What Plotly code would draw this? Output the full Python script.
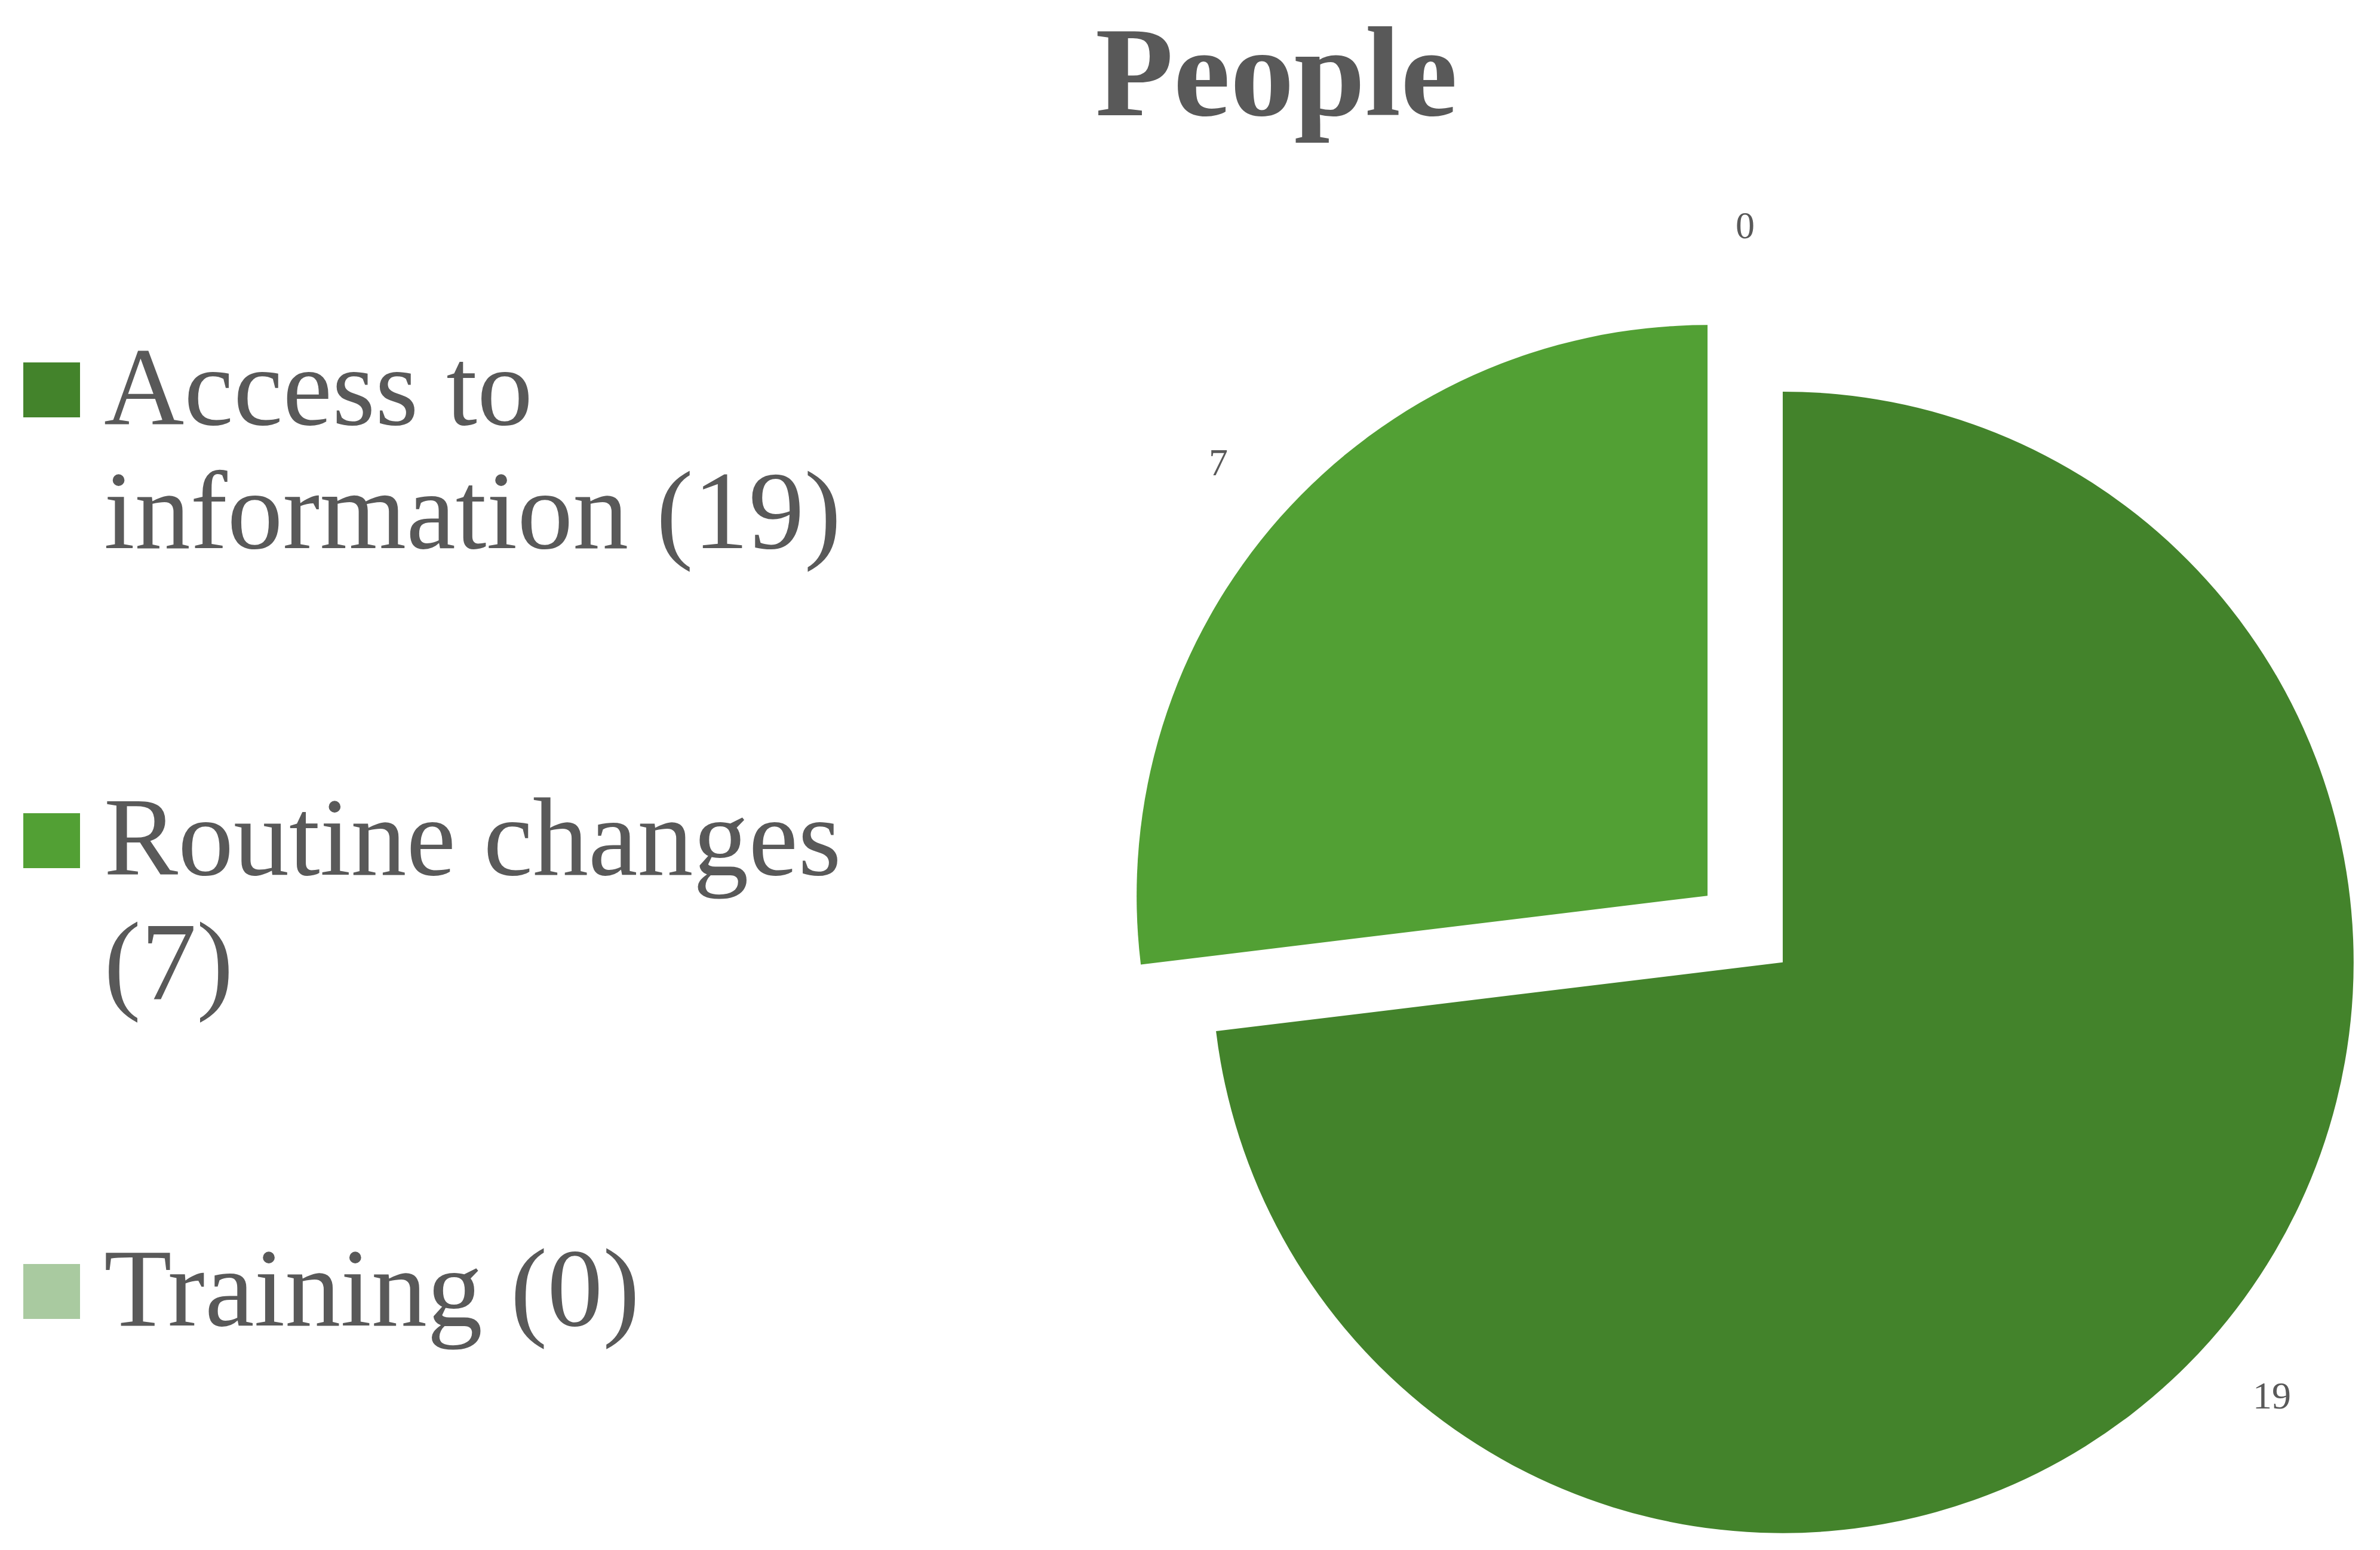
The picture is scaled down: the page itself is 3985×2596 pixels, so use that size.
import math
import plotly.graph_objects as go

# ---- data ----
categories = ["Access to information", "Routine changes", "Training"]
counts = [19, 7, 0]
legend_lines = [["Access to", "information (19)"], ["Routine changes", "(7)"], ["Training (0)"]]
slice_colors = ["#43832b", "#52a034", "#a9caa0"]
explode = [0.088, 0.088, 0.088]

W, H = 3985, 2596
TEXT = "#595959"
SERIF = "Liberation Serif, Times New Roman, serif"

# pie box: centre and half-size in pixels
cx, cy = 2922, 1556
half = H - cy

fig = go.Figure(
    go.Pie(
        labels=categories,
        values=counts,
        sort=False,
        direction="clockwise",
        rotation=0,
        pull=explode,
        marker=dict(colors=slice_colors, line=dict(width=0)),
        textinfo="none",
        domain=dict(x=[(cx - half) / W, (cx + half) / W],
                    y=[(H - cy - half) / H, (H - cy + half) / H]),
        showlegend=False,
        hoverinfo="label+value",
    )
)

annotations = [
    dict(text="<b>People</b>", x=2137 / W, y=1 - 121 / H, xref="paper", yref="paper",
         xanchor="center", yanchor="middle", showarrow=False,
         font=dict(family=SERIF, size=214, color=TEXT))
]
shapes = []

# value labels just outside each (exploded) slice, at the slice's mid-angle
radius = half / (1 + max(explode))
total = sum(counts)
cum = 0
for v, p in zip(counts, explode):
    theta = 2 * math.pi * (cum + v / 2) / total      # clockwise from 12 o'clock
    cum += v
    dx, dy = math.sin(theta), -math.cos(theta)
    dist = (p + 1.145) * radius
    lx, ly = cx + dist * dx, cy + dist * dy
    annotations.append(dict(
        text=str(v), x=lx / W, y=1 - ly / H, xref="paper", yref="paper",
        xanchor="center", yanchor="middle", showarrow=False,
        font=dict(family=SERIF, size=64, color=TEXT)))

# hand-drawn legend on the left
FS = 186
first_baselines = [713, 1468, 2223]
line_gap = 207
for lines, base, col in zip(legend_lines, first_baselines, slice_colors):
    for k, line in enumerate(lines):
        yb = base + k * line_gap
        annotations.append(dict(
            text=line, x=172 / W, y=1 - (yb - 0.35 * FS) / H, xref="paper", yref="paper",
            xanchor="left", yanchor="middle", showarrow=False,
            font=dict(family=SERIF, size=FS, color=TEXT)))
    sq_c = base - 60
    shapes.append(dict(type="rect", xref="paper", yref="paper",
                       x0=39 / W, x1=134 / W, y0=1 - (sq_c + 46) / H, y1=1 - (sq_c - 46) / H,
                       fillcolor=col, line=dict(width=0)))

fig.update_layout(
    width=W, height=H, autosize=False,
    margin=dict(l=0, r=0, t=0, b=0, pad=0, autoexpand=False),
    paper_bgcolor="white", plot_bgcolor="white",
    annotations=annotations, shapes=shapes,
)

fig.write_html("out.html", config={"responsive": False, "displayModeBar": False})
